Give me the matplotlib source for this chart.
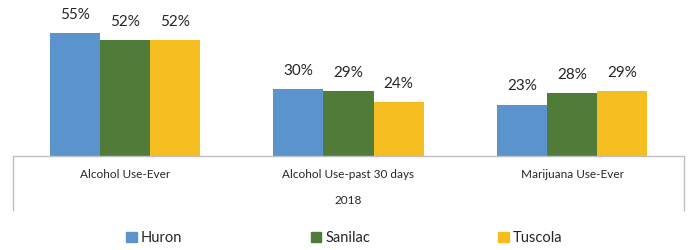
import matplotlib
matplotlib.use("Agg")
import matplotlib.pyplot as plt
import numpy as np
from matplotlib.lines import Line2D

categories = ["Alcohol Use-Ever", "Alcohol Use-past 30 days", "Marijuana Use-Ever"]
series_names = ["Huron", "Sanilac", "Tuscola"]
huron = [55, 30, 23]
sanilac = [52, 29, 28]
tuscola = [52, 24, 29]
year_label = "2018"
colors = ["#5B94CD", "#4F7D39", "#F5BD1F"]

plt.rcParams['font.family'] = ['Lato', 'DejaVu Sans']

W, H = 689, 250
fig = plt.figure(figsize=(W/100, H/100), dpi=100)
x0, x1 = 13, 684
ybase = 156
ax = fig.add_axes([x0/W, 1 - ybase/H, (x1-x0)/W, (ybase-0)/H])

x = np.arange(len(categories))
bw = 0.224
vals = [huron, sanilac, tuscola]
for i, (name, v, c) in enumerate(zip(series_names, vals, colors)):
    pos = x + (i-1)*bw
    bars = ax.bar(pos, v, bw, color=c, label=name, linewidth=0)
    for xp, val in zip(pos, v):
        ax.text(xp, val + 5.0, f"{val}%", ha='center', va='bottom', fontsize=11, color='#262626')

ax.set_xlim(-0.5, len(categories)-0.5)
ax.set_ylim(0, 156/2.236)
for s in ['top', 'left', 'right']:
    ax.spines[s].set_visible(False)
ax.spines['bottom'].set_color('#BFBFBF')
ax.spines['bottom'].set_linewidth(1)
ax.set_yticks([])
ax.set_xticks([])

ymax = ax.get_ylim()[1]
# category labels
for xi, cat in zip(x, categories):
    ax.text(xi, -(174-ybase)*ymax/156, cat, ha='center', va='center', fontsize=8.5, color='#262626',
            clip_on=False)
# year label
ax.text(1, -(200-ybase)*ymax/156, year_label, ha='center', va='center', fontsize=8.5, color='#262626', clip_on=False)

# side vertical lines
for xe in [-0.5, len(categories)-0.5]:
    ax.add_line(Line2D([xe, xe], [0, -(210-ybase)*ymax/156], color='#BFBFBF', lw=1, clip_on=False))

# legend
handles = [plt.Rectangle((0, 0), 1, 1, color=c) for c in colors]
leg = fig.legend(handles, series_names, loc='center', bbox_to_anchor=(0.5, 1-238/H), ncol=3,
                 frameon=False, fontsize=10.5, handlelength=0.7, handleheight=0.7,
                 handletextpad=0.3, columnspacing=8.8)
for t in leg.get_texts():
    t.set_color('#262626')

fig.savefig("out.png", dpi=100)
